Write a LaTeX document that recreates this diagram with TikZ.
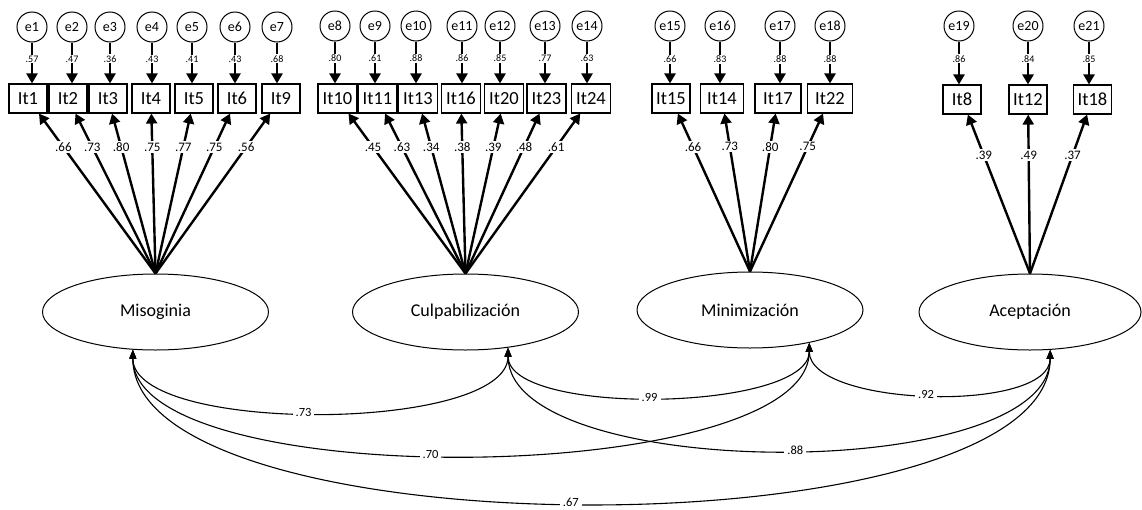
\documentclass[tikz,border=0pt]{standalone}
\usepackage{fontspec}
\setmainfont{Carlito}
\usetikzlibrary{arrows.meta,shapes.geometric}

\begin{document}
\begin{tikzpicture}[x=1pt, y=-1pt,
      item/.style = {shape=rectangle, draw, line width=1.1pt, minimum width=38pt,
        minimum height=29pt, inner sep=1pt, font=\fontsize{18.5}{20}\selectfont},
      err/.style = {shape=circle, draw, line width=1pt, minimum size=30pt,
        inner sep=0pt, font=\fontsize{14}{15}\selectfont},
      factor/.style = {shape=ellipse, draw, line width=1pt, minimum width=226pt,
        minimum height=76pt, font=\fontsize{18}{20}\selectfont},
      load/.style = {line width=2.4pt, -{Triangle[length=10pt,width=11pt]}},
      corr/.style = {line width=1.1pt,
        {Triangle[length=9pt,width=7pt]}-{Triangle[length=9pt,width=7pt]}},
      errval/.style = {fill=white, inner sep=1pt, font=\fontsize{10}{11}\selectfont},
      loadval/.style = {fill=white, inner sep=1.5pt, font=\fontsize{13}{14}\selectfont},
      corrval/.style = {fill=white, inner sep=3pt, font=\fontsize{12.5}{13}\selectfont}]
  \useasboundingbox (0,0) rectangle (1142,509);

  % latent factors
  \node[factor] (miso) at (155.5,312) {Misoginia};
  \node[factor] (culp) at (465.5,312) {Culpabilización};
  \node[factor] (mini) at (750,310) {Minimización};
  \node[factor, minimum width=222pt] (acep) at (1030,312) {Aceptación};

  % Misoginia
  \foreach \n/\x/\e/\ex/\ev/\lv in {1/28/1/32/.57/.66, 2/68/2/72/.47/.73,
      3/108/3/110/.36/.80, 4/151/4/152/.43/.75, 5/194/5/192/.41/.77,
      6/237/6/235/.43/.75, 9/281/7/277/.68/.56}
  {
    \node[item] (It\n) at (\x,98.5) {It\n};
    \node[err] (e\e) at (\ex,27) {e\e};
    \draw[load] (e\e) -- node[pos=.4, errval] {\ev} (e\e |- It\n.north);
    \draw[load] (miso.north) -- node[pos=.79, loadval] {\lv} (It\n);
  }

  % Culpabilizacion
  \foreach \n/\x/\e/\ex/\ev/\lv in {10/337.5/8/335/.80/.45, 11/377.5/9/375/.61/.63,
      13/418/10/416/.88/.34, 16/461/11/462/.86/.38, 20/504/12/500/.85/.39,
      23/546.5/13/545/.77/.48, 24/591/14/587/.63/.61}
  {
    \node[item, minimum width=39pt] (It\n) at (\x,98.5) {It\n};
    \node[err] (e\e) at (\ex,26) {e\e};
    \draw[load] (e\e) -- node[pos=.4, errval] {\ev} (e\e |- It\n.north);
    \draw[load] (culp.north) -- node[pos=.79, loadval] {\lv} (It\n);
  }

  % Minimizacion
  \foreach \n/\x/\w/\e/\ex/\ev/\lv in {15/671/38/15/670/.66/.66,
      14/722/43/16/720/.83/.73, 17/778/46/17/780/.88/.80, 22/830/45/18/830/.88/.75}
  {
    \node[item, minimum width=\w pt] (It\n) at (\x,98.5) {It\n};
    \node[err] (e\e) at (\ex,26) {e\e};
    \draw[load] (e\e) -- node[pos=.42, errval] {\ev} (e\e |- It\n.north);
    \draw[load] (mini.north) -- node[pos=.79, loadval] {\lv} (It\n);
  }

  % Aceptacion
  \foreach \n/\x/\e/\ex/\ev/\lv in {8/962/19/959/.86/.39, 12/1028/20/1028/.84/.49,
      18/1092.5/21/1089/.85/.37}
  {
    \node[item] (It\n) at (\x,99.5) {It\n};
    \node[err] (e\e) at (\ex,26) {e\e};
    \draw[load] (e\e) -- node[pos=.4, errval] {\ev} (e\e |- It\n.north);
    \draw[load] (acep.north) -- node[pos=.744, loadval] {\lv} (It\n);
  }

  % correlations
  \draw[corr] (miso.-121) .. controls +(0,85) and +(0,85) .. (culp.-40)
    node[pos=.47, corrval] {.73};
  \draw[corr] (culp.-40) .. controls +(0,69) and +(0,69) .. (mini.-29)
    node[pos=.48, corrval] {.99};
  \draw[corr] (mini.-29) .. controls +(0,64) and +(0,64) .. (acep.-62)
    node[pos=.49, corrval] {.92};
  \draw[corr] (miso.-121) .. controls +(0,145) and +(0,145) .. (mini.-29)
    node[pos=.46, corrval] {.70};
  \draw[corr] (culp.-40) .. controls +(0,135) and +(0,135) .. (acep.-62)
    node[pos=.52, corrval] {.88};
  \draw[corr] (miso.-121) .. controls +(0,204) and +(0,204) .. (acep.-62)
    node[pos=.485, corrval] {.67};
\end{tikzpicture}
\end{document}
